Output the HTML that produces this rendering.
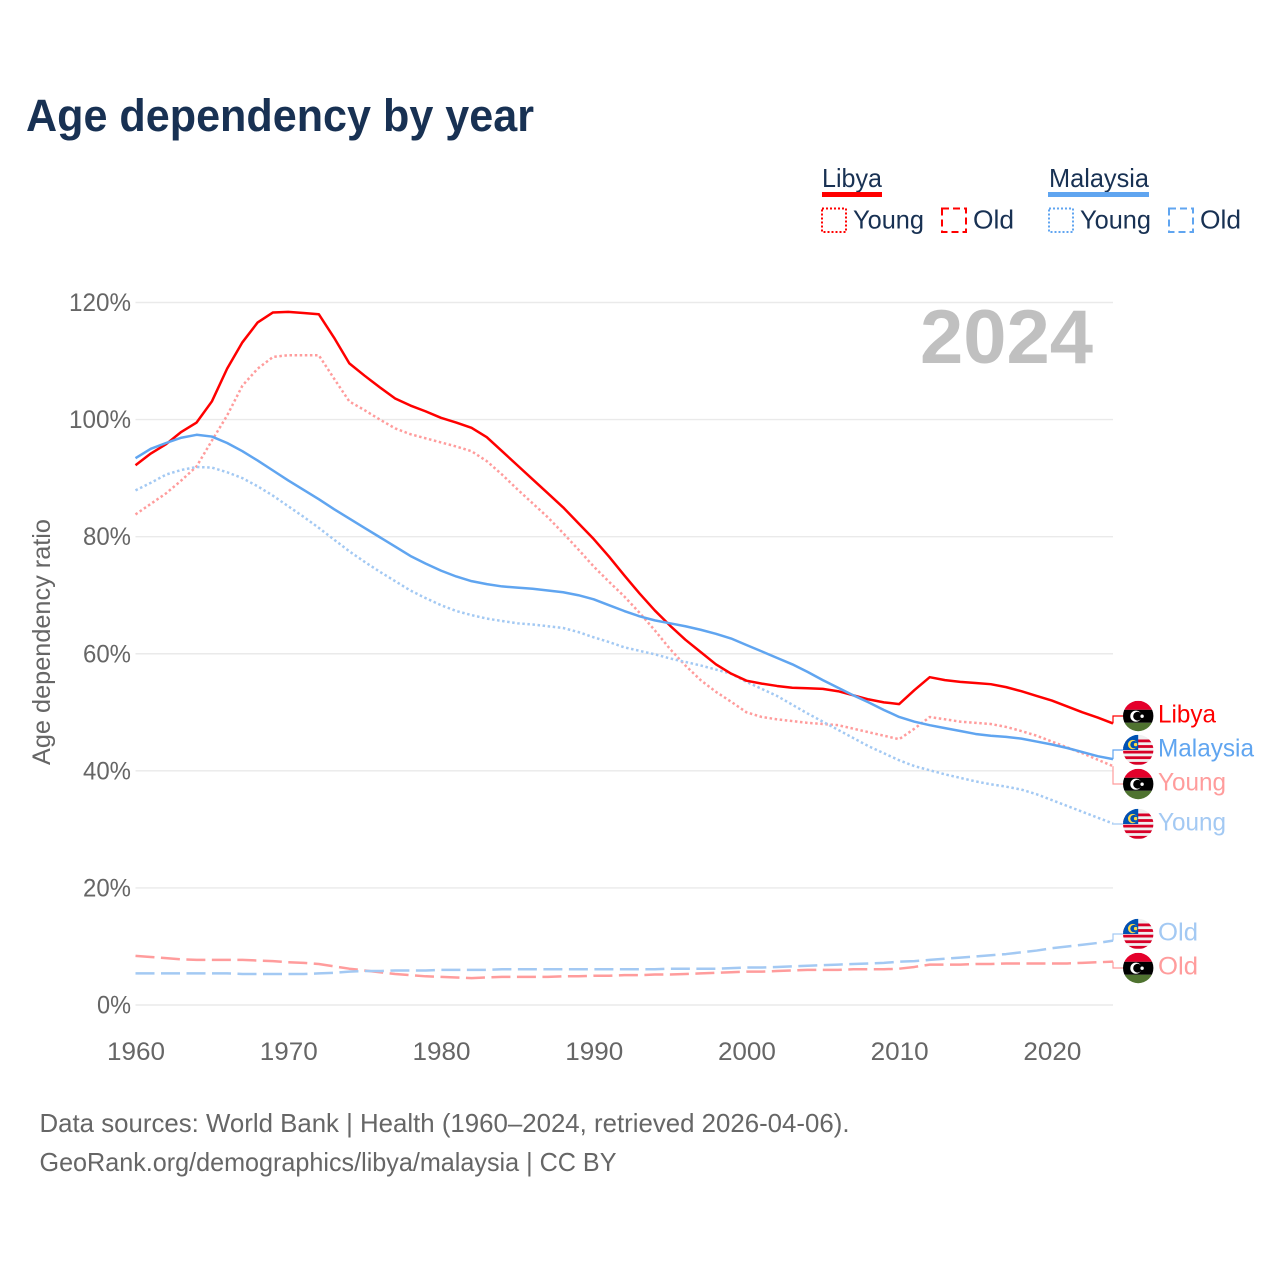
<!DOCTYPE html>
<html lang="en">
<head>
<meta charset="utf-8">
<title>Age dependency by year</title>
<style>
html,body{margin:0;padding:0;background:#fff;}
svg{display:block;font-family:"Liberation Sans",sans-serif;}
</style>
</head>
<body>
<svg id="chart" xmlns="http://www.w3.org/2000/svg" width="1280" height="1280" viewBox="0 0 1280 1280">
  <rect width="1280" height="1280" fill="#fff"/>
  <text x="26" y="131" font-size="45" font-weight="700" fill="#183153" textLength="508" lengthAdjust="spacingAndGlyphs">Age dependency by year</text>

  <g font-size="26" fill="#183153">
    <text x="822" y="187" textLength="60" lengthAdjust="spacingAndGlyphs">Libya</text>
    <rect x="822" y="192" width="60" height="5" fill="#ff0000"/>
    <rect x="822" y="208.5" width="24" height="23.5" fill="none" stroke="#ff0000" stroke-width="2" stroke-dasharray="2,2"/>
    <text x="853" y="228.5" textLength="71" lengthAdjust="spacingAndGlyphs">Young</text>
    <rect x="942" y="208.5" width="24" height="23.5" fill="none" stroke="#ff0000" stroke-width="2" stroke-dasharray="7,4"/>
    <text x="973" y="228.5" textLength="41" lengthAdjust="spacingAndGlyphs">Old</text>
    <text x="1049" y="187" textLength="100" lengthAdjust="spacingAndGlyphs">Malaysia</text>
    <rect x="1048" y="192" width="101" height="5" fill="#60a5f0"/>
    <rect x="1049" y="208.5" width="24" height="23.5" fill="none" stroke="#60a5f0" stroke-width="2" stroke-dasharray="2,2"/>
    <text x="1080" y="228.5" textLength="71" lengthAdjust="spacingAndGlyphs">Young</text>
    <rect x="1169" y="208.5" width="24" height="23.5" fill="none" stroke="#60a5f0" stroke-width="2" stroke-dasharray="7,4"/>
    <text x="1200" y="228.5" textLength="41" lengthAdjust="spacingAndGlyphs">Old</text>
  </g>

  <g id="grid"></g>
  <g id="yticks"></g>
  <g id="xticks"></g>
  <text transform="translate(50,642) rotate(-90)" text-anchor="middle" font-size="25" fill="#666" textLength="246" lengthAdjust="spacingAndGlyphs">Age dependency ratio</text>
  <text x="920" y="363" font-size="76" font-weight="700" fill="#c0c0c0" textLength="173" lengthAdjust="spacingAndGlyphs">2024</text>
  <g id="series"></g>
  <g id="endlabels"></g>

  <g font-size="26" fill="#666">
    <text x="39.5" y="1132" textLength="810" lengthAdjust="spacingAndGlyphs">Data sources: World Bank | Health (1960–2024, retrieved 2026-04-06).</text>
    <text x="39.5" y="1171" textLength="577" lengthAdjust="spacingAndGlyphs">GeoRank.org/demographics/libya/malaysia | CC BY</text>
  </g>
</svg>
<script>
const years = [];
for (let yr = 1960; yr <= 2024; yr++) years.push(yr);
const yTickValues = [0, 20, 40, 60, 80, 100, 120];
const yTickLabels = ["0%", "20%", "40%", "60%", "80%", "100%", "120%"];
const xTickValues = [1960, 1970, 1980, 1990, 2000, 2010, 2020];
const xTickLabels = ["1960", "1970", "1980", "1990", "2000", "2010", "2020"];

const libyaTotal = [92.2,94.2,95.8,97.9,99.5,103.1,108.7,113.2,116.6,118.3,
  118.4,118.2,118,114,109.6,107.5,105.5,103.6,102.4,101.4,
  100.3,99.5,98.6,97,94.6,92.2,89.8,87.4,85,82.3,
  79.6,76.6,73.4,70.3,67.4,64.8,62.4,60.3,58.2,56.6,
  55.4,54.9,54.5,54.2,54.1,54,53.6,52.9,52.2,51.7,
  51.4,53.8,56,55.5,55.2,55,54.8,54.3,53.6,52.8,
  52,51,50,49.1,48.1];
const libyaYoung = [83.8,85.6,87.4,89.6,92,96.4,100.7,105.8,108.7,110.7,
  111,111,111,107,103.1,101.6,100,98.5,97.5,96.8,
  96.1,95.4,94.6,92.9,90.6,88.1,85.7,83.3,80.6,77.8,
  74.9,72.3,69.8,67,64,60.8,58,55.5,53.5,51.8,
  50,49.2,48.8,48.5,48.2,48,47.8,47.2,46.6,46,
  45.4,47.2,49.2,48.8,48.4,48.2,48,47.5,46.8,46,
  45,44,43,41.9,40.8];
const libyaOld = [8.4,8.2,8.0,7.8,7.7,7.7,7.7,7.7,7.6,7.5,
  7.3,7.2,7.0,6.6,6.2,5.9,5.6,5.3,5.1,4.9,
  4.8,4.7,4.6,4.7,4.8,4.8,4.8,4.8,4.9,4.9,
  5.0,5.0,5.1,5.1,5.2,5.2,5.3,5.4,5.5,5.6,
  5.7,5.7,5.8,5.9,6.0,6.0,6.0,6.1,6.1,6.1,
  6.2,6.5,6.9,6.9,6.9,7.0,7.0,7.1,7.1,7.1,
  7.1,7.1,7.2,7.3,7.4];
const malaysiaTotal = [93.4,95,96,96.9,97.4,97.1,96,94.6,93,91.3,
  89.6,88,86.4,84.7,83.1,81.5,79.9,78.3,76.7,75.4,
  74.2,73.2,72.4,71.9,71.5,71.3,71.1,70.8,70.5,70,
  69.3,68.3,67.3,66.4,65.7,65.2,64.7,64.1,63.4,62.6,
  61.5,60.4,59.3,58.2,56.9,55.5,54.2,52.9,51.7,50.4,
  49.2,48.4,47.8,47.3,46.8,46.3,46,45.8,45.5,45,
  44.5,43.9,43.2,42.5,42];
const malaysiaYoung = [87.9,89.2,90.6,91.4,91.9,91.8,91,90,88.6,87,
  85.2,83.4,81.5,79.5,77.5,75.7,74,72.4,70.8,69.5,
  68.3,67.3,66.6,66,65.6,65.2,65,64.7,64.4,63.7,
  62.8,62,61.1,60.5,59.9,59.2,58.6,58,57.3,56.6,
  55.2,54,52.8,51.3,49.8,48.4,47,45.6,44.2,43,
  41.8,40.8,40.1,39.4,38.8,38.2,37.7,37.3,36.8,36,
  35,34,33,32,31];
const malaysiaOld = [5.4,5.4,5.4,5.4,5.4,5.4,5.4,5.3,5.3,5.3,
  5.3,5.3,5.4,5.5,5.7,5.8,5.8,5.9,5.9,5.9,
  6.0,6.0,6.0,6.0,6.1,6.1,6.1,6.1,6.1,6.1,
  6.1,6.1,6.1,6.1,6.1,6.2,6.2,6.2,6.2,6.3,
  6.4,6.4,6.5,6.6,6.7,6.8,6.9,7.0,7.1,7.2,
  7.4,7.5,7.7,7.9,8.1,8.3,8.5,8.7,9.0,9.3,
  9.7,10,10.3,10.6,11];

const NS = "http://www.w3.org/2000/svg";
const X0 = 135.5, X1 = 1113, Y0 = 1005, Y120 = 302.5;
function xScale(year) { return X0 + (year - 1960) * (X1 - X0) / 64; }
function yScale(value) { return Y0 - value * (Y0 - Y120) / 120; }
function make(tag, attrs, parent) {
  const el = document.createElementNS(NS, tag);
  for (const k in attrs) el.setAttribute(k, attrs[k]);
  parent.appendChild(el);
  return el;
}

const gridG = document.getElementById("grid");
const yG = document.getElementById("yticks");
yTickValues.forEach(function (v, i) {
  const line = make("line", { x1: X0, x2: X1, y1: yScale(v), y2: yScale(v), stroke: "#eaeaea", "stroke-width": 1.4 }, gridG);
  
  
  const t = make("text", { x: 131, y: yScale(v) + 8.5, "text-anchor": "end", "font-size": 25, fill: "#666", textLength: yTickLabels[i].length * 14 + 6, lengthAdjust: "spacingAndGlyphs" }, yG);
  
  
  t.textContent = yTickLabels[i];
});
const xG = document.getElementById("xticks");
xTickValues.forEach(function (v, i) {
  const t = make("text", { x: xScale(v) + 0.5, y: 1060, "text-anchor": "middle", "font-size": 25, fill: "#666", textLength: 58, lengthAdjust: "spacingAndGlyphs" }, xG);
  
  
  t.textContent = xTickLabels[i];
});

const RED = "#ff0000", BLUE = "#60a5f0", RED_L = "#ff9c9c", BLUE_L = "#a3c9f3";
const DOT = "2.5,2.6", DASH = "19,6.5";
const seriesDefs = [
  { name: "libya-old", vals: libyaOld, color: RED_L, dash: DASH, w: 2.5 },
  { name: "malaysia-old", vals: malaysiaOld, color: BLUE_L, dash: DASH, w: 2.5 },
  { name: "libya-young", vals: libyaYoung, color: RED_L, dash: DOT, w: 2.5 },
  { name: "malaysia-young", vals: malaysiaYoung, color: BLUE_L, dash: DOT, w: 2.5 },
  { name: "libya-total", vals: libyaTotal, color: RED, dash: "", w: 2.5 },
  { name: "malaysia-total", vals: malaysiaTotal, color: BLUE, dash: "", w: 2.5 }
];
const seriesG = document.getElementById("series");
seriesDefs.forEach(function (s) {
  const d = s.vals.map(function (v, i) {
    return (i ? "L" : "M") + xScale(years[i]).toFixed(2) + " " + yScale(v).toFixed(2);
  }).join("");
  const p = make("path", { d: d, fill: "none", stroke: s.color, "stroke-width": s.w, "stroke-linejoin": "round" }, seriesG);
  if (s.dash) p.setAttribute("stroke-dasharray", s.dash);
  
  
});

const endDefs = [
  { name: "libya-total", label: "Libya", flag: "ly", vals: libyaTotal, color: RED, cy: 716, len: 58 },
  { name: "malaysia-total", label: "Malaysia", flag: "my", vals: malaysiaTotal, color: BLUE, cy: 750, len: 96 },
  { name: "libya-young", label: "Young", flag: "ly", vals: libyaYoung, color: RED_L, cy: 784, len: 68 },
  { name: "malaysia-young", label: "Young", flag: "my", vals: malaysiaYoung, color: BLUE_L, cy: 824, len: 68 },
  { name: "malaysia-old", label: "Old", flag: "my", vals: malaysiaOld, color: BLUE_L, cy: 934, len: 40 },
  { name: "libya-old", label: "Old", flag: "ly", vals: libyaOld, color: RED_L, cy: 968, len: 40 }
];
const endG = document.getElementById("endlabels");
function drawFlag(g, type, cx, cy, id) {
  const defs = make("defs", {}, g);
  const cp = make("clipPath", { id: id }, defs);
  make("circle", { cx: cx, cy: cy, r: 15.2 }, cp);
  const f = make("g", { "clip-path": "url(#" + id + ")" }, g);
  const l = cx - 15.2, t = cy - 15.2;
  if (type === "ly") {
    make("rect", { x: l, y: t, width: 31, height: 9, fill: "#e4002b" }, f);
    make("rect", { x: l, y: t + 9, width: 31, height: 13, fill: "#000" }, f);
    make("rect", { x: l, y: t + 22, width: 31, height: 9, fill: "#4f7330" }, f);
    make("circle", { cx: cx - 2.3, cy: cy + 0.2, r: 5.6, fill: "#fff" }, f);
    make("circle", { cx: cx - 0.6, cy: cy + 0.2, r: 4.4, fill: "#000" }, f);
    make("circle", { cx: cx + 3.9, cy: cy + 0.2, r: 1.7, fill: "#fff" }, f);
  } else {
    make("rect", { x: l, y: t, width: 31, height: 31, fill: "#f0f0f0" }, f);
    for (let i = 0; i < 5; i++) {
      make("rect", { x: l, y: t + 4.7 + i * 5.6, width: 31, height: 2.8, fill: "#d80027" }, f);
    }
    make("rect", { x: l, y: t, width: 15.2, height: 15.2, fill: "#0052b4" }, f);
    make("circle", { cx: cx - 5.5, cy: cy - 5.4, r: 4.7, fill: "#ffda44" }, f);
    make("circle", { cx: cx - 4.2, cy: cy - 5.4, r: 3.7, fill: "#0052b4" }, f);
    make("circle", { cx: cx - 2.6, cy: cy - 5.4, r: 1.7, fill: "#ffda44" }, f);
  }
}
endDefs.forEach(function (e, i) {
  const g = make("g", {}, endG);
  
  
  const yEnd = yScale(e.vals[e.vals.length - 1]);
  make("path", { d: "M" + X1 + " " + yEnd.toFixed(2) + "L" + X1 + " " + e.cy + "L1123 " + e.cy, fill: "none", stroke: e.color, "stroke-width": 1.2 }, g);
  drawFlag(g, e.flag, 1138.2, e.cy, "flag-clip-" + i);
  const t = make("text", { x: 1158, y: e.cy + 6.5, "font-size": 25, fill: e.color, textLength: e.len, lengthAdjust: "spacingAndGlyphs" }, g);
  
  
  t.textContent = e.label;
});
</script>
</body>
</html>
